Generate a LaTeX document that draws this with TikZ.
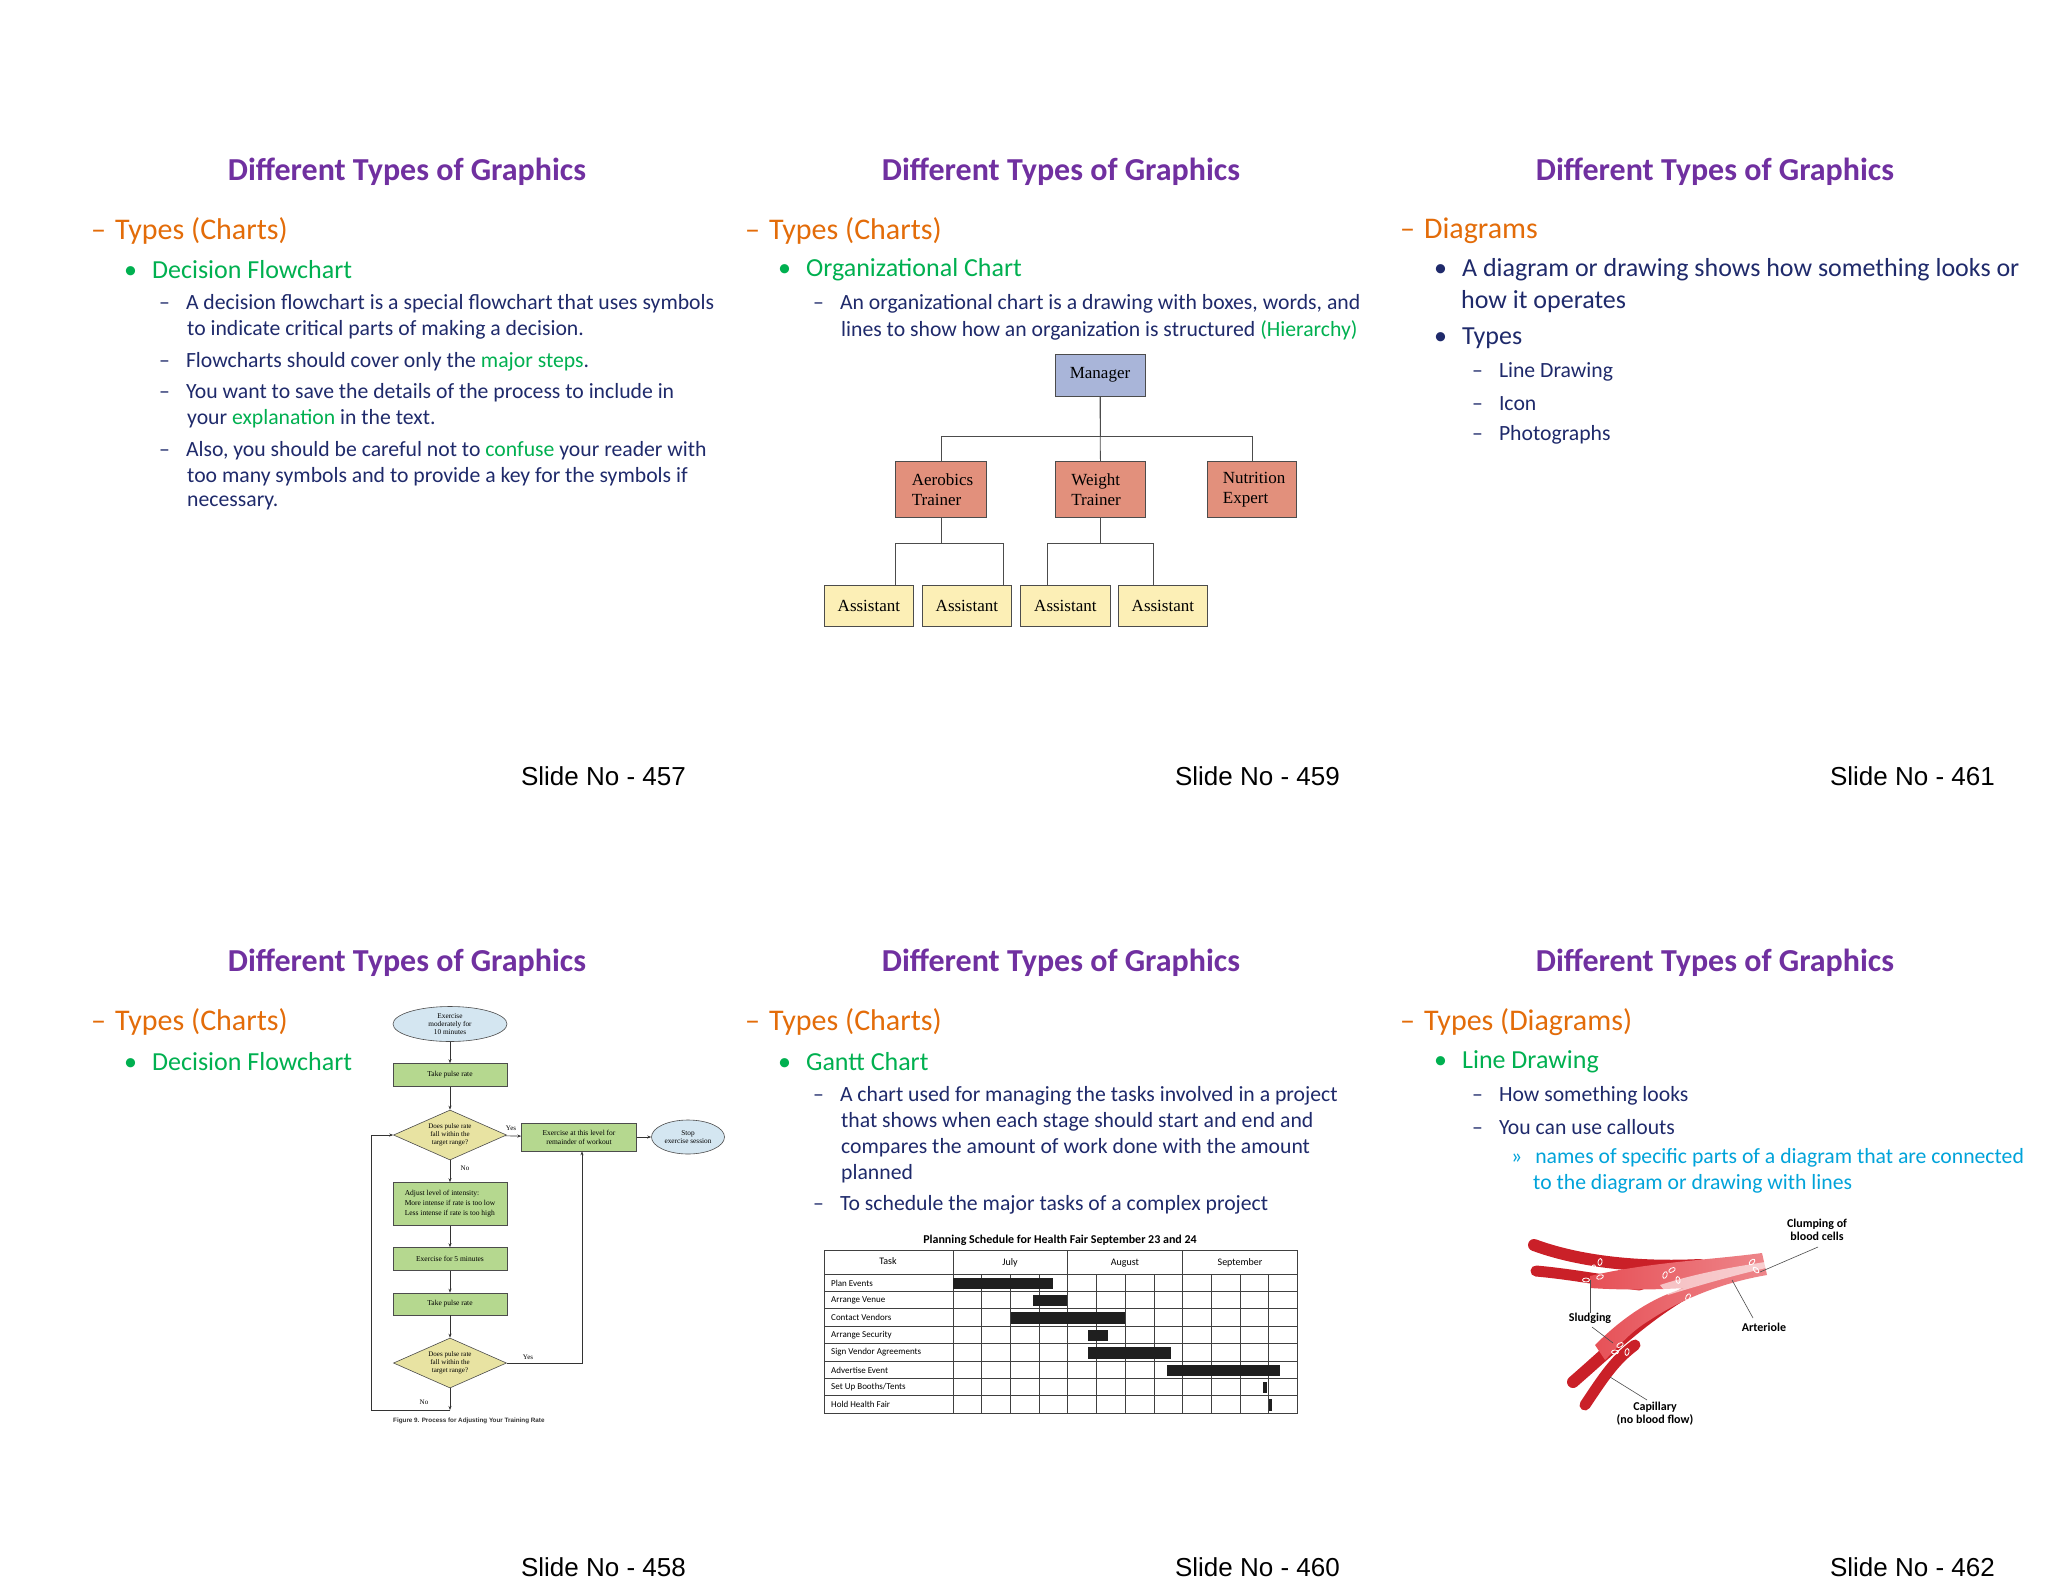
\documentclass[tikz,border=0pt]{standalone}
\usepackage{fontspec}
\setmainfont{Carlito}
\newfontfamily\arialf{Liberation Sans}
\newfontfamily\timesf{Liberation Serif}
\usetikzlibrary{shapes.geometric,arrows.meta}
\definecolor{ptitle}{HTML}{7030A0}
\definecolor{porange}{HTML}{E36C09}
\definecolor{pgreen}{HTML}{00B050}
\definecolor{pnavy}{HTML}{1F2A6B}
\definecolor{pcyan}{HTML}{00A3DA}
\definecolor{mgr}{HTML}{A9B5D9}
\definecolor{salm}{HTML}{E2907C}
\definecolor{yell}{HTML}{FCEFB6}
\definecolor{fgreen}{HTML}{B5D88F}
\definecolor{fyell}{HTML}{E8E3A2}
\definecolor{fblue}{HTML}{D4E6F1}
\definecolor{vred}{HTML}{E0242C}
\begin{document}
\begin{tikzpicture}[x=1pt,y=-1pt,
  ttl/.style={font=\fontsize{32}{36}\selectfont\bfseries, text=ptitle},
  lvA/.style={anchor=west, font=\fontsize{30}{34}\selectfont, text=porange, inner sep=0},
  lvB/.style={anchor=west, font=\fontsize{26}{30}\selectfont, text=pgreen, inner sep=0},
  lvBk/.style={anchor=west, font=\fontsize{26}{30}\selectfont, text=pnavy, inner sep=0},
  lvC/.style={anchor=west, font=\fontsize{21.7}{25}\selectfont, text=pnavy, inner sep=0},
  lvD/.style={anchor=west, font=\fontsize{21.7}{25}\selectfont, text=pcyan, inner sep=0},
  sno/.style={anchor=east, font=\arialf\fontsize{26}{29}\selectfont, inner sep=0},
  obox/.style={draw=black!70, line width=0.8pt, font=\timesf\fontsize{17}{20}\selectfont, inner sep=0, anchor=north west},
  fbox/.style={draw=black!70, fill=fgreen, line width=0.6pt, font=\timesf\fontsize{7.5}{9}\selectfont, minimum width=114pt, inner sep=1pt},
  fdia/.style={diamond, aspect=2.3, draw=black!70, fill=fyell, line width=0.6pt, font=\timesf\fontsize{7}{8}\selectfont, align=center, minimum width=113pt, minimum height=50pt, inner sep=0},
  fell/.style={ellipse, draw=black!70, fill=fblue, line width=0.6pt, font=\timesf\fontsize{7.3}{8.3}\selectfont, align=center, inner sep=0},
  fl/.style={font=\timesf\fontsize{7}{8}\selectfont, inner sep=0},
  farr/.style={-{Stealth[length=4pt,width=3pt]}, line width=0.6pt, black!80},
  gtxt/.style={anchor=west, font=\fontsize{9}{10}\selectfont, inner sep=0},
  bl/.style={font=\fontsize{12}{13}\selectfont\bfseries, align=center, inner sep=0},
  cl/.style={draw=black!70, line width=0.6pt},
  cell/.style={draw=white, line width=0.8pt},
  oline/.style={black!70, line width=0.8pt}
]
\useasboundingbox (0,0) rectangle (2048,1582);
\fill[white] (0,0) rectangle (2048,1582);

% ===== titles & slide numbers =====
\foreach \cx/\nm in {407/a,1061/b,1715/c}{
  \node[ttl] (ti1\nm) at (\cx,172) {Different Types of Graphics};
  \node[ttl] (ti2\nm) at (\cx,963) {Different Types of Graphics};
}
\node[sno] (s457) at (686,776) {Slide No - 457};
\node[sno] (s459) at (1340,776) {Slide No - 459};
\node[sno] (s461) at (1995,776) {Slide No - 461};
\node[sno] (s458) at (686,1567) {Slide No - 458};
\node[sno] (s460) at (1340,1567) {Slide No - 460};
\node[sno] (s462) at (1995,1567) {Slide No - 462};

% ===== slide 457 =====
\node[lvA] (a1) at (91,231) {–\hspace{9pt}Types (Charts)};
\node[lvB] (a2) at (124,270) {•\hspace{15pt}Decision Flowchart};
\node[lvC] (a3) at (159,304) {–\hspace{16pt}A decision flowchart is a special flowchart that uses symbols};
\node[lvC] (a4) at (187,330) {to indicate critical parts of making a decision.};
\node[lvC] (a5) at (159,362) {–\hspace{16pt}Flowcharts should cover only the \textcolor{pgreen}{major steps}.};
\node[lvC] (a6) at (159,393) {–\hspace{16pt}You want to save the details of the process to include in};
\node[lvC] (a7) at (187,419) {your \textcolor{pgreen}{explanation} in the text.};
\node[lvC] (a8) at (159,451) {–\hspace{16pt}Also, you should be careful not to \textcolor{pgreen}{confuse} your reader with};
\node[lvC] (a9) at (187,477) {too many symbols and to provide a key for the symbols if};
\node[lvC] (a10) at (187,503) {necessary.};

% ===== slide 459 =====
\node[lvA] (b1) at (745,231) {–\hspace{9pt}Types (Charts)};
\node[lvB] (b2) at (778,270) {•\hspace{15pt}Organizational Chart};
\node[lvC] (b3) at (813,304) {–\hspace{16pt}An organizational chart is a drawing with boxes, words, and};
\node[lvC] (b4) at (841,330) {lines to show how an organization is structured \textcolor{pgreen}{(Hierarchy)}};
\node[obox, fill=mgr, minimum width=90pt, minimum height=42pt, anchor=center] (mg) at (1100,375) {Manager};
\node[obox, fill=salm, minimum width=91pt, minimum height=56pt, align=left] (ae) at (895,461) {\hspace*{12pt}\parbox{70pt}{Aerobics\\Trainer}};
\node[obox, fill=salm, minimum width=90pt, minimum height=56pt, align=left] (we) at (1055,461) {\hspace*{12pt}\parbox{70pt}{Weight\\Trainer}};
\node[obox, fill=salm, minimum width=89pt, minimum height=56pt, align=left] (nu) at (1207,461) {\hspace*{12pt}\parbox{70pt}{Nutrition\\Expert}};
\node[obox, fill=yell, minimum width=89pt, minimum height=41pt] (as1) at (824,585) {Assistant};
\node[obox, fill=yell, minimum width=89pt, minimum height=41pt] (as2) at (922,585) {Assistant};
\node[obox, fill=yell, minimum width=90pt, minimum height=41pt] (as3) at (1020,585) {Assistant};
\node[obox, fill=yell, minimum width=89pt, minimum height=41pt] (as4) at (1118,585) {Assistant};
\coordinate (o1) at (895,585);
\coordinate (o2) at (1003,585);
\coordinate (o3) at (1047,585);
\coordinate (o4) at (1153,585);
\draw[oline] (mg.south) -- ++(0,40) -| (ae.north);
\draw[oline] (mg.south) -- ++(0,40) -| (nu.north);
\draw[oline] (mg.south) -- (we.north);
\draw[oline] (ae.south) -- ++(0,26) -| (o1);
\draw[oline] (ae.south) -- ++(0,26) -| (o2);
\draw[oline] (we.south) -- ++(0,26) -| (o3);
\draw[oline] (we.south) -- ++(0,26) -| (o4);

% ===== slide 461 =====
\node[lvA] (c1) at (1400,231) {–\hspace{9pt}Diagrams};
\node[lvBk] (c2) at (1434,270) {•\hspace{15pt}A diagram or drawing shows how something looks or};
\node[lvBk] (c3) at (1461,302) {how it operates};
\node[lvBk] (c4) at (1434,338) {•\hspace{15pt}Types};
\node[lvC] (c5) at (1472,372) {–\hspace{16pt}Line Drawing};
\node[lvC] (c6) at (1472,404) {–\hspace{16pt}Icon};
\node[lvC] (c7) at (1472,435) {–\hspace{16pt}Photographs};

% ===== slide 458 =====
\node[lvA] (d1) at (91,1022) {–\hspace{9pt}Types (Charts)};
\node[lvB] (d2) at (124,1062) {•\hspace{15pt}Decision Flowchart};
\node[fell, minimum width=114pt, minimum height=35pt] (f1) at (450,1024) {Exercise\\moderately for\\10 minutes};
\node[fbox, minimum height=23pt] (f2) at (450,1075) {Take pulse rate};
\node[fdia] (f3) at (450,1135) {Does pulse rate\\fall within the\\target range?};
\node[fbox, minimum width=115pt, minimum height=28pt, align=center] (f4) at (579,1137) {Exercise at this level for\\remainder of workout};
\node[fell, minimum width=73pt, minimum height=34pt] (f5) at (688,1137) {Stop\\exercise session};
\node[fbox, minimum height=43pt, align=left] (f6) at (450,1204) {Adjust level of intensity:\\[1pt]More intense if rate is too low\\[1pt]Less intense if rate is too high};
\node[fbox, minimum height=23pt] (f7) at (450,1259) {Exercise for 5 minutes};
\node[fbox, minimum height=22pt] (f8) at (450,1304) {Take pulse rate};
\node[fdia] (f9) at (450,1363) {Does pulse rate\\fall within the\\target range?};
\coordinate (fc1) at (450,1410);
\coordinate (fc2) at (371,1410);
\coordinate (fc3) at (371,1135);
\coordinate (fc4) at (582,1363);
\draw[farr] (f1) -- (f2);
\draw[farr] (f2) -- (f3);
\draw[farr] (f3) -- (f4);
\draw[farr] (f4) -- (f5);
\draw[farr] (f3) -- (f6);
\draw[farr] (f6) -- (f7);
\draw[farr] (f7) -- (f8);
\draw[farr] (f8) -- (f9);
\draw[farr] (f9.east) -- (fc4) -- (f4.south -| fc4);
\draw[farr] (f9.south) -- (fc1);
\draw[farr] (fc1) -- (fc2) -- (fc3) -- (f3.west);
\node[fl] (fy1) at (511,1128) {Yes};
\node[fl] (fn1) at (465,1168) {No};
\node[fl] (fy2) at (528,1357) {Yes};
\node[fl] (fn2) at (424,1402) {No};
\node[anchor=west, font=\arialf\fontsize{6.3}{7}\selectfont\bfseries, text=black!80, inner sep=0] (fcap) at (393,1421) {Figure 9. Process for Adjusting Your Training Rate};

% ===== slide 460 =====
\node[lvA] (e1) at (745,1022) {–\hspace{9pt}Types (Charts)};
\node[lvB] (e2) at (778,1062) {•\hspace{15pt}Gantt Chart};
\node[lvC] (e3) at (813,1096) {–\hspace{16pt}A chart used for managing the tasks involved in a project};
\node[lvC] (e4) at (841,1122) {that shows when each stage should start and end and};
\node[lvC] (e5) at (841,1148) {compares the amount of work done with the amount};
\node[lvC] (e6) at (841,1174) {planned};
\node[lvC] (e7) at (813,1205) {–\hspace{16pt}To schedule the major tasks of a complex project};
\node[font=\fontsize{12}{13}\selectfont\bfseries, inner sep=0] (gt) at (1060,1240) {Planning Schedule for Health Fair September 23 and 24};
\draw[black!75, line width=0.7pt] (824,1250) rectangle (1297,1413);
\foreach \i in {0,...,7}{ \draw[black!75, line width=0.7pt] (824,1274+\i*17.4) -- (1297,1274+\i*17.4); }
\foreach \xx in {953,1067,1182}{ \draw[black!75, line width=0.7pt] (\xx,1250) -- (\xx,1413); }
\foreach \w in {1,2,3,5,6,7,9,10,11}{ \draw[black!75, line width=0.7pt] (953+\w*28.7,1274) -- (953+\w*28.7,1413); }
\node[font=\fontsize{10}{11}\selectfont, inner sep=0] (gh0) at (888,1261) {Task};
\node[font=\fontsize{10}{11}\selectfont, inner sep=0] (gh1) at (1010,1263) {July};
\node[font=\fontsize{10}{11}\selectfont, inner sep=0] (gh2) at (1125,1263) {August};
\node[font=\fontsize{10}{11}\selectfont, inner sep=0] (gh3) at (1240,1263) {September};
\foreach \t [count=\r from 0] in {Plan Events,Arrange Venue,Contact Vendors,Arrange Security,Sign Vendor Agreements,Advertise Event,Set Up Booths/Tents,Hold Health Fair}{
  \node[gtxt] (gr\r) at (831,1283+\r*17.4) {\t};
}
\foreach \a/\b [count=\r from 0] in {953/1053,1033/1067,1011/1125,1088/1108,1088/1171,1167/1280,1263/1267,1269/1272}{
  \fill[black!88] (\a,1277.5+\r*17.4) rectangle (\b,1289+\r*17.4);
}

% ===== slide 462 =====
\node[lvA] (g1) at (1400,1022) {–\hspace{9pt}Types (Diagrams)};
\node[lvB] (g2) at (1434,1062) {•\hspace{15pt}Line Drawing};
\node[lvC] (g3) at (1472,1096) {–\hspace{16pt}How something looks};
\node[lvC] (g4) at (1472,1127) {–\hspace{16pt}You can use callouts};
\node[lvD] (g5) at (1511,1158) {»\hspace{13pt}names of specific parts of a diagram that are connected};
\node[lvD] (g6) at (1533,1184) {to the diagram or drawing with lines};
% vessels
\draw[vred!90!black, line width=11pt, line cap=round] (1536,1271) .. controls (1570,1274) and (1600,1280) .. (1640,1285);
\draw[vred!90!black, line width=12pt, line cap=round] (1534,1245) .. controls (1580,1262) and (1640,1268) .. (1700,1265);
\draw[vred!90!black, line width=12pt, line cap=round] (1573,1382) .. controls (1610,1350) and (1650,1310) .. (1700,1285);
\draw[vred!90!black, line width=11pt, line cap=round] (1585,1405) .. controls (1605,1375) and (1615,1360) .. (1635,1345);
\shade[left color=vred!80, right color=vred!55] (1590,1276) .. controls (1650,1262) and (1710,1260) .. (1762,1253)
  -- (1767,1275) .. controls (1720,1283) and (1680,1300) .. (1650,1320) .. controls (1630,1332) and (1620,1345) .. (1605,1360)
  -- (1595,1345) .. controls (1620,1320) and (1650,1298) .. (1685,1288) .. controls (1650,1290) and (1620,1290) .. (1590,1288) -- cycle;
\fill[white, opacity=0.6] (1660,1285) .. controls (1700,1272) and (1740,1266) .. (1765,1262) -- (1766,1268) .. controls (1740,1274) and (1710,1282) .. (1668,1295) -- cycle;
\foreach \px/\py/\an in {1593/1268/60,1600/1277/20,1586/1280/0,1600/1262/80,1665/1275/70,1672/1270/30,1678/1280/100,1688/1297/60,1692/1306/120,1682/1305/40,1752/1262/45,1756/1270/135,1620/1345/30,1627/1352/80,1615/1352/0}{
  \draw[cell] (\px,\py) ellipse[x radius=3.5pt, y radius=2pt, rotate=\an];
}
\node[bl] (bc) at (1817,1230) {Clumping of\\blood cells};
\node[bl] (bs) at (1590,1318) {Sludging};
\node[bl] (ba) at (1764,1327) {Arteriole};
\node[bl] (bp) at (1655,1414) {Capillary\\(no blood flow)};
\coordinate (pc) at (1760,1272);
\coordinate (ps1) at (1590,1280);
\coordinate (ps2) at (1613,1343);
\coordinate (pa) at (1732,1280);
\coordinate (pp) at (1610,1377);
\coordinate (bcl) at (1818,1247);
\coordinate (bsl) at (1592,1327);
\coordinate (bal) at (1753,1318);
\coordinate (bpl) at (1647,1400);
\draw[cl] (bcl) -- (pc);
\draw[cl] (bs.north) -- (ps1);
\draw[cl] (bsl) -- (ps2);
\draw[cl] (bal) -- (pa);
\draw[cl] (bpl) -- (pp);
\end{tikzpicture}
\end{document}
